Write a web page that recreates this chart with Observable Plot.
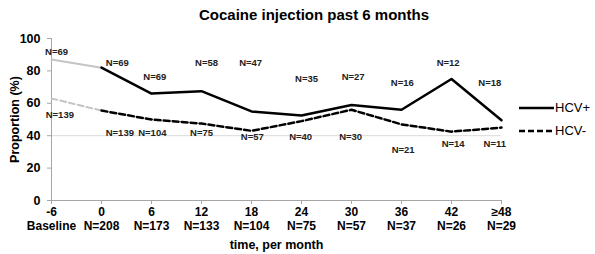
<!DOCTYPE html>
<html>
<head>
<meta charset="utf-8">
<script src="https://cdn.jsdelivr.net/npm/d3@7"></script>
<script src="https://cdn.jsdelivr.net/npm/@observablehq/plot@0.6"></script>
<style>
  body { margin: 0; background: #fff; font-family: "Liberation Sans", Arial, sans-serif; }
  #wrap { position: relative; width: 595px; height: 254px; }
  #title { height: 28px; line-height: 30px; font-size: 15px; font-weight: bold; text-align: center; padding-left: 33px; box-sizing: border-box; width: 595px; }
  #legend { position: absolute; left: 519px; top: 96px; font-size: 13px; }
  #legend div { display: flex; align-items: center; height: 23px; }
</style>
</head>
<body>
<div id="wrap">
  <div id="title">Cocaine injection past 6 months</div>
  <div id="chart"></div>
  <div id="legend">
    <div><svg width="36" height="10"><line x1="0" y1="5" x2="35" y2="5" stroke="black" stroke-width="2.5"/></svg><span>HCV+</span></div>
    <div><svg width="36" height="10"><line x1="0" y1="5" x2="35" y2="5" stroke="black" stroke-width="2.5" stroke-dasharray="6,3"/></svg><span>HCV-</span></div>
  </div>
</div>
<script>
// ---- data ----
const months = [-6, 0, 6, 12, 18, 24, 30, 36, 42, 48];
const tickTop = ["-6", "0", "6", "12", "18", "24", "30", "36", "42", "≥48"];
const tickBottom = ["Baseline", "N=208", "N=173", "N=133", "N=104", "N=75", "N=57", "N=37", "N=26", "N=29"];
const hcvPos = [87, 82, 66, 67.5, 55, 52.5, 59, 56, 75, 49.5];
const hcvNeg = [63, 55.5, 50, 47.5, 43, 49, 56, 47, 42.5, 45];
const nPos = ["N=69", "N=69", "N=69", "N=58", "N=47", "N=35", "N=27", "N=16", "N=12", "N=18"];
const nNeg = ["N=139", "N=139", "N=104", "N=75", "N=57", "N=40", "N=30", "N=21", "N=14", "N=11"];
const yTicks = [0, 20, 40, 60, 80, 100];

// ---- annotation layout (label anchor positions in data units) ----
const posLabelX = [-5.4, 1.9, 6.4, 12.6, 17.9, 24.6, 30.2, 36.1, 41.6, 46.6];
const posLabelY = [92, 84.6, 76.5, 84.6, 84.6, 75.3, 76.5, 72.8, 84.6, 72.8];
const negLabelX = [-5.0, 2.2, 6.1, 12, 18.1, 23.9, 29.9, 36.2, 42.2, 47.2];
const negLabelY = [52.5, 42, 42, 42, 39, 39, 39, 31, 34.6, 34.6];

const rows = months.map((m, i) => ({
  m, pos: hcvPos[i], neg: hcvNeg[i], nPos: nPos[i], nNeg: nNeg[i],
  px: posLabelX[i], py: posLabelY[i], nx: negLabelX[i], ny: negLabelY[i]
}));

const font = "Liberation Sans, Arial, sans-serif";
const axisGray = "#a6a6a6";

const chart = Plot.plot({
  width: 595,
  height: 226,
  marginLeft: 51,
  marginRight: 94,
  marginTop: 10,
  marginBottom: 54,
  style: { fontFamily: font, color: "black", background: "white" },
  x: { domain: [-6, 48] },
  y: { domain: [0, 100] },
  marks: [
    Plot.ruleY([40], { stroke: "#d9d9d9" }),
    Plot.ruleY([0], { stroke: axisGray }),
    Plot.ruleX([-6], { stroke: axisGray }),
    Plot.axisY({ ticks: yTicks, tickSize: 4, tickPadding: 7, stroke: axisGray, fontSize: 12.5, fontWeight: "bold", label: null }),
    Plot.axisX({ ticks: months, tickFormat: d => tickTop[months.indexOf(d)], tickSize: 4, tickPadding: 3, stroke: axisGray, fontSize: 12, fontWeight: "bold", label: null }),
    Plot.axisX({ ticks: months, tickFormat: d => tickBottom[months.indexOf(d)], tickSize: 0, tickPadding: 21, fontSize: 12, fontWeight: "bold", label: null }),
    Plot.text(["time, per month"], { frameAnchor: "bottom", dy: 48, fontSize: 12.5, fontWeight: "bold" }),
    Plot.text(["Proportion (%)"], { frameAnchor: "left", textAnchor: "middle", dx: -37, rotate: -90, fontSize: 12.5, fontWeight: "bold" }),
    Plot.line(rows.slice(0, 2), { x: "m", y: "pos", stroke: "#c4c4c4", strokeWidth: 2 }),
    Plot.line(rows.slice(0, 2), { x: "m", y: "neg", stroke: "#c4c4c4", strokeWidth: 2, strokeDasharray: "6,3" }),
    Plot.line(rows.slice(1), { x: "m", y: "pos", stroke: "black", strokeWidth: 2.5 }),
    Plot.line(rows.slice(1), { x: "m", y: "neg", stroke: "black", strokeWidth: 2.5, strokeDasharray: "6,3" }),
    Plot.text(rows, { x: "px", y: "py", text: "nPos", fontSize: 9.5, fontWeight: "bold", fill: "#222" }),
    Plot.text(rows, { x: "nx", y: "ny", text: "nNeg", fontSize: 9.5, fontWeight: "bold", fill: "#222" })
  ]
});
document.getElementById("chart").appendChild(chart);
</script>
</body>
</html>
